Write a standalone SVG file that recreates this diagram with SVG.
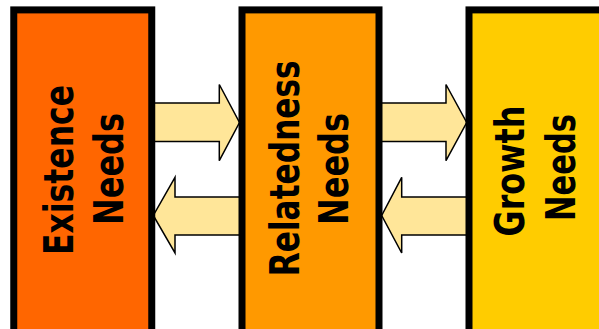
<svg xmlns="http://www.w3.org/2000/svg" width="599" height="329" viewBox="0 0 599 329">
  <style>
    .box { stroke: #000; stroke-width: 7; }
    .arrow { fill: #FFE699; stroke: #000; stroke-width: 1.5; stroke-linejoin: miter; }
    .lbl { font-family: "DejaVu Sans", Verdana, sans-serif; font-weight: bold; font-size: 41px; fill: #000; text-anchor: middle; }
  </style>
  <rect width="599" height="329" fill="#fff"/>
  <g id="connectors">
    <polygon class="arrow" points="150,103 219.3,103 219.3,84.5 239.5,122.5 219.3,160.7 219.3,141.5 150,141.5"/>
    <polygon class="arrow" points="245,197 175,197 175,177.3 153.3,215.5 175,253 175,235 245,235"/>
    <polygon class="arrow" points="380,103 446,103 446,84.5 466.7,122.5 446,160.7 446,141.5 380,141.5"/>
    <polygon class="arrow" points="470,197 401.7,197 401.7,177.3 381.7,215.5 401.7,253 401.7,235 470,235"/>
  </g>
  <g id="existence">
    <rect class="box" x="13.75" y="9.9" width="138" height="330" fill="#FF6600"/>
    <text class="lbl" transform="translate(73.3,170) rotate(-90) scale(0.76,1)" textLength="223.7" lengthAdjust="spacingAndGlyphs">Existence</text>
    <text class="lbl" transform="translate(122.7,169) rotate(-90) scale(0.76,1)" textLength="147.4" lengthAdjust="spacingAndGlyphs">Needs</text>
  </g>
  <g id="relatedness">
    <rect class="box" x="242" y="9.9" width="137" height="330" fill="#FF9900"/>
    <text class="lbl" transform="translate(299.3,168.3) rotate(-90) scale(0.76,1)" textLength="284.2" lengthAdjust="spacingAndGlyphs">Relatedness</text>
    <text class="lbl" transform="translate(348.3,169) rotate(-90) scale(0.76,1)" textLength="147.4" lengthAdjust="spacingAndGlyphs">Needs</text>
  </g>
  <g id="growth">
    <rect class="box" x="469" y="9.9" width="160" height="330" fill="#FFCC00"/>
    <text class="lbl" transform="translate(524,171) rotate(-90) scale(0.76,1)" textLength="172.4" lengthAdjust="spacingAndGlyphs">Growth</text>
    <text class="lbl" transform="translate(575,167.5) rotate(-90) scale(0.76,1)" textLength="140.8" lengthAdjust="spacingAndGlyphs">Needs</text>
  </g>
</svg>
